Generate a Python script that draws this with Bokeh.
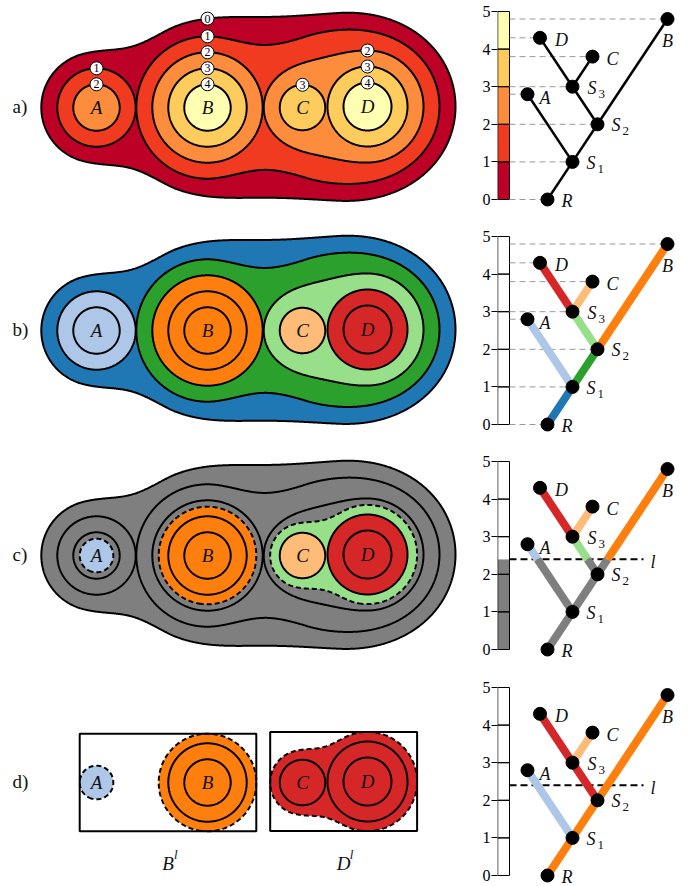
import numpy as np
import contourpy
from bokeh.plotting import figure
from bokeh.layouts import column, row
from bokeh.models import Range1d, FixedTicker
from bokeh.embed import file_html
from bokeh.resources import INLINE
from bokeh.core.properties import value

# ---------------- data ----------------
peak_names = ["A", "B", "C", "D"]
peak_x = [96.0, 207.0, 302.0, 367.0]
peak_y = [0.0, 0.0, 0.0, 1.0]
peak_value = [3.45, 5.45, 4.42, 5.5]
px_per_level = 16.0

node_names = ["R", "S1", "A", "S2", "B", "S3", "C", "D"]
node_height = [0.0, 1.0, 2.8, 2.0, 4.8, 3.0, 3.8, 4.3]
node_pos = [0.0, 1.0, -0.8, 2.0, 4.8, 1.0, 1.8, -0.3]
node_parent = [None, "R", "S1", "S1", "S2", "S2", "S3", "S3"]

contour_levels = [0, 1, 2, 3, 4]
band_colors = ["#bd0026", "#f03b20", "#fd8d3c", "#fecc5c", "#ffffb2"]
threshold = 2.4

edge_color = {"S1": "#1f77b4", "A": "#aec7e8", "S2": "#2ca02c", "B": "#ff7f0e",
              "S3": "#98df8a", "C": "#ffbb78", "D": "#d62728"}
branch_color = {"S1": "#ff7f0e", "S2": "#ff7f0e", "B": "#ff7f0e", "A": "#aec7e8",
                "S3": "#d62728", "D": "#d62728", "C": "#ffbb78"}
below_color = "#7f7f7f"

badge_peak = ["A", "A", "B", "B", "B", "B", "B", "C", "D", "D", "D"]
badge_level = [1, 2, 0, 1, 2, 3, 4, 3, 2, 3, 4]

box_names = ["B", "D"]
box_members = [["A", "B"], ["C", "D"]]

row_labels = ["a)", "b)", "c)", "d)"]
tick_values = [0, 1, 2, 3, 4, 5]

# ---------------- layout / style ----------------
FONT = value("Liberation Serif")
# (top, bottom, blob centre, y of level 5) in page pixels
rows_px = [(0, 218, 107, 11), (218, 443, 330, 236), (443, 668, 555, 461), (668, 886, 782, 687)]
LEFT_W, RIGHT_W = 468, 221
AX_BORDER = 29
TREE_PX = 25.0      # px per tree x unit
TREE_PY = 37.6      # px per level unit
TREE_X0 = -2.0
CB_R = -1.52
label_off = {"R": (14, 1), "S1": (14, 1), "A": (12, 4), "S2": (14, 1), "B": (0, 22),
             "S3": (15, 1), "C": (14, 2), "D": (15, 2)}

# ---------------- tree helpers ----------------
H = dict(zip(node_names, node_height))
POS = dict(zip(node_names, node_pos))
PARENT = dict(zip(node_names, node_parent))
children = {n: [m for m in node_names if PARENT[m] == n] for n in node_names}


def leaves(n):
    if not children[n]:
        return {n}
    s = set()
    for c in children[n]:
        s |= leaves(c)
    return s


LEAVES = {n: frozenset(leaves(n)) for n in node_names}
upper_of = {}
for n in node_names:
    if PARENT[n] is not None:
        upper_of[LEAVES[n]] = n

# ---------------- scalar field ----------------
PEAK = {n: (x, y, v) for n, x, y, v in zip(peak_names, peak_x, peak_y, peak_value)}
SMOOTH = 50.0


def smin(a, b, k):
    if k <= 0:
        return np.minimum(a, b)
    h = np.clip(0.5 + 0.5 * (b - a) / k, 0.0, 1.0)
    return b * (1 - h) + a * h - k * h * (1 - h)


def sdf(n, X, Y, L):
    if n in PEAK:
        cx, cy, v = PEAK[n]
        if L >= H[n]:
            return np.full(np.shape(X), 1e4)
        return np.hypot(X - cx, Y - cy) - px_per_level * (v - L)
    ch = children[n]
    k = SMOOTH * float(np.clip(H[n] - L, 0, 1.5))
    out = sdf(ch[0], X, Y, L)
    for c in ch[1:]:
        out = smin(out, sdf(c, X, Y, L), k)
    return out


gx = np.arange(20, 470, 0.7)
gy = np.arange(-112, 112, 0.7)
GX, GY = np.meshgrid(gx, gy)
_cache = {}


def loops(L):
    if L in _cache:
        return _cache[L]
    Z = sdf("R", GX, GY, L)
    gen = contourpy.contour_generator(gx, gy, Z, line_type="Separate")
    out = []
    for seg in gen.lines(0.0):
        xs, ys = seg[:, 0], seg[:, 1]
        mem = frozenset(n for n in peak_names
                        if xs.min() < PEAK[n][0] < xs.max() and ys.min() < PEAK[n][1] < ys.max())
        out.append((xs, ys, mem))
    _cache[L] = out
    return out


def top_y(n, L):
    ys = np.arange(0, 112, 0.1)
    xs = np.full_like(ys, PEAK[n][0])
    z = sdf("R", xs, ys, L)
    return ys[z <= 0].max()


# ---------------- figures ----------------
def blob_fig(i):
    top, bottom, center, _ = rows_px[i]
    q = figure(width=LEFT_W, height=bottom - top, x_range=Range1d(0, LEFT_W),
               y_range=Range1d(center - bottom, center - top), output_backend="svg",
               toolbar_location=None, x_axis_location=None, y_axis_location=None,
               min_border=0)
    q.grid.visible = False
    q.outline_line_color = None
    q.text(x=[12], y=[1], text=[row_labels[i]], text_font=FONT, text_font_size="19px",
           text_align="left", text_baseline="middle", text_color="#111111")
    return q


def draw_levels(q, lvls, fill_fn, dash_fn):
    for L in lvls:
        lp = loops(L)
        q.patches([l[0] for l in lp], [l[1] for l in lp],
                  fill_color=[fill_fn(L, l[2]) for l in lp], line_color="black",
                  line_width=2, line_dash=dash_fn(L))


def peak_labels(q, names):
    q.text(x=[PEAK[n][0] for n in names], y=[PEAK[n][1] for n in names], text=names,
           text_font=FONT, text_font_style="italic", text_font_size="19px",
           text_align="center", text_baseline="middle", text_color="#111111")


solid = lambda L: "solid"

# row a
qa = blob_fig(0)
draw_levels(qa, contour_levels, lambda L, m: band_colors[contour_levels.index(L)], solid)
peak_labels(qa, peak_names)
bx = [PEAK[n][0] for n in badge_peak]
by = [top_y(n, L) for n, L in zip(badge_peak, badge_level)]
qa.scatter(bx, by, size=13, fill_color="white", line_color="black", line_width=1)
qa.text(x=bx, y=by, text=[str(l) for l in badge_level], text_font=FONT, text_font_size="12px",
        text_align="center", text_baseline="middle", text_color="black")

# row b
qb = blob_fig(1)
draw_levels(qb, contour_levels, lambda L, m: edge_color[upper_of[m]], solid)
peak_labels(qb, peak_names)

# row c
qc = blob_fig(2)
lv_c = sorted(contour_levels + [threshold])
draw_levels(qc, lv_c, lambda L, m: below_color if L < threshold else edge_color[upper_of[m]],
            lambda L: "5 3" if L == threshold else "solid")
peak_labels(qc, peak_names)

# row d
qd = blob_fig(3)
draw_levels(qd, [threshold], lambda L, m: branch_color[upper_of[m]], lambda L: "5 3")
lp_hi = [l for L in contour_levels if L > threshold for l in loops(L)]
qd.multi_line([l[0] for l in lp_hi], [l[1] for l in lp_hi], line_color="black", line_width=2)
peak_labels(qd, peak_names)
cut_loops = loops(threshold)
for nm, mem in zip(box_names, box_members):
    sel = [l for l in cut_loops if l[2] <= frozenset(mem)]
    x0 = min(l[0].min() for l in sel); x1 = max(l[0].max() for l in sel)
    y0 = min(l[1].min() for l in sel); y1 = max(l[1].max() for l in sel)
    qd.quad(left=[x0], right=[x1], bottom=[y0], top=[y1], fill_color=None,
            line_color="black", line_width=2)
    cxm = (x0 + x1) / 2
    qd.text(x=[cxm], y=[-81], text=[nm], text_font=FONT, text_font_style="italic",
            text_font_size="19px", text_align="center", text_baseline="middle", text_color="#111111")
    qd.text(x=[cxm], y=[-81], text=["l"], text_font=FONT, text_font_style="italic",
            text_font_size="13px", text_align="left", text_baseline="middle",
            x_offset=6, y_offset=-9, text_color="#111111")


def tree_fig(i, mode):
    top, bottom, _, y5 = rows_px[i]
    vt = 5 + (y5 - top) / TREE_PY
    vb = 5 - (bottom - y5) / TREE_PY
    xr = TREE_X0 + (RIGHT_W - AX_BORDER) / TREE_PX
    p = figure(width=RIGHT_W, height=bottom - top, x_range=Range1d(TREE_X0, xr),
               y_range=Range1d(vb, vt), output_backend="svg", toolbar_location=None,
               x_axis_location=None, y_axis_location="left", min_border_left=AX_BORDER,
               min_border_right=0, min_border_top=0, min_border_bottom=0)
    p.grid.visible = False
    p.outline_line_color = None
    ax = p.yaxis[0]
    ax.ticker = FixedTicker(ticks=tick_values)
    ax.axis_line_color = None
    ax.major_tick_in = 0
    ax.major_tick_out = 6
    ax.major_tick_line_color = "black"
    ax.minor_tick_line_color = None
    ax.major_label_text_font = "Liberation Serif"
    ax.major_label_text_font_size = "16px"
    ax.major_label_text_color = "black"
    ax.major_label_standoff = 1

    cbl = TREE_X0 + 0.01
    if mode == "a":
        p.quad(left=cbl, right=CB_R, bottom=contour_levels, top=[l + 1 for l in contour_levels],
               fill_color=band_colors, line_color=None)
    elif mode == "c":
        p.quad(left=cbl, right=CB_R, bottom=[0, threshold], top=[threshold, 5],
               fill_color=[below_color, "white"], line_color=None)
    p.quad(left=cbl, right=CB_R, bottom=contour_levels, top=[l + 1 for l in contour_levels],
           fill_color=None, line_color="black", line_width=1)

    names = node_names
    xs = [POS[n] for n in names]
    ys = [H[n] for n in names]
    if mode in ("a", "b"):
        p.segment(x0=[CB_R] * len(names), y0=ys, x1=xs, y1=ys, line_color="#999999",
                  line_width=1, line_dash="6 4")
    else:
        p.segment(x0=[CB_R], y0=[threshold], x1=[3.84], y1=[threshold], line_color="black",
                  line_width=2, line_dash="7 4")
        p.text(x=[4.12], y=[threshold], text=["l"], text_font=FONT, text_font_style="italic",
               text_font_size="18px", text_align="left", text_baseline="middle",
               y_offset=3, text_color="#111111")

    seg = dict(x0=[], y0=[], x1=[], y1=[], c=[])

    def add(a, b, c):
        seg["x0"].append(a[0]); seg["y0"].append(a[1])
        seg["x1"].append(b[0]); seg["y1"].append(b[1]); seg["c"].append(c)

    for n in names:
        par = PARENT[n]
        if par is None:
            continue
        a = (POS[par], H[par]); b = (POS[n], H[n])
        if mode == "a":
            add(a, b, "black")
        elif mode == "b":
            add(a, b, edge_color[n])
        elif mode == "d":
            add(a, b, branch_color[n])
        else:
            if b[1] <= threshold:
                add(a, b, below_color)
            elif a[1] >= threshold:
                add(a, b, edge_color[n])
            else:
                t = (threshold - a[1]) / (b[1] - a[1])
                m = (a[0] + t * (b[0] - a[0]), threshold)
                add(a, m, below_color)
                add(m, b, edge_color[n])
    p.segment(x0="x0", y0="y0", x1="x1", y1="y1", line_color="c", source=seg,
              line_width=2.5 if mode == "a" else 8)
    p.scatter(xs, ys, size=13, color="black")

    for n in names:
        dx, dy = label_off[n]
        main = n[0]
        al = "center" if n == "B" else "left"
        p.text(x=[POS[n]], y=[H[n]], text=[main], text_font=FONT, text_font_style="italic",
               text_font_size="18px", text_align=al, text_baseline="middle",
               x_offset=dx, y_offset=dy, text_color="#111111")
        if len(n) > 1:
            p.text(x=[POS[n]], y=[H[n]], text=[n[1:]], text_font=FONT, text_font_size="13px",
                   text_align="left", text_baseline="middle", x_offset=dx + 11, y_offset=dy + 6,
                   text_color="#111111")
    return p


pa, pb, pc, pd = tree_fig(0, "a"), tree_fig(1, "b"), tree_fig(2, "c"), tree_fig(3, "d")

layout = column(row(qa, pa), row(qb, pb), row(qc, pc), row(qd, pd))
open("out.html", "w").write(file_html(layout, INLINE))
